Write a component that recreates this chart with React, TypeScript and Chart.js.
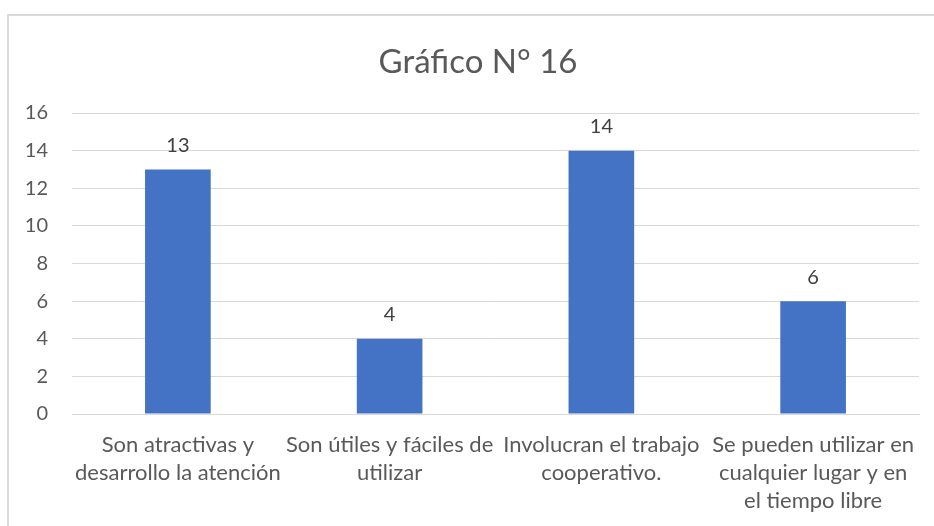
import React, { useEffect, useRef } from "react";
import { Chart, registerables } from "chart.js";

Chart.register(...registerables);

const categories: string[][] = [
  ["Son atractivas y", "desarrollo la atención"],
  ["Son útiles y fáciles de", "utilizar"],
  ["Involucran el trabajo", "cooperativo."],
  ["Se pueden utilizar en", "cualquier lugar y en", "el tiempo libre"],
];
const values: number[] = [13, 4, 14, 6];
const titleText = "Gráfico N° 16";
const yMin = 0;
const yMax = 16;
const yStep = 2;

const FONT = "Lato, 'Open Sans', sans-serif";

const dataLabels = {
  id: "dataLabels",
  afterDatasetsDraw(chart: any) {
    const ctx = chart.ctx;
    const meta = chart.getDatasetMeta(0);
    ctx.save();
    ctx.font = `20px ${FONT}`;
    ctx.fillStyle = "#404040";
    ctx.textAlign = "center";
    ctx.textBaseline = "middle";
    meta.data.forEach((el: any, i: number) => {
      ctx.fillText(String(values[i]), el.x, el.y - 24);
    });
    ctx.restore();
  },
};

const chartTitle = {
  id: "chartTitle",
  afterDraw(chart: any) {
    const ctx = chart.ctx;
    ctx.save();
    ctx.font = `33px ${FONT}`;
    ctx.fillStyle = "#595959";
    ctx.textAlign = "center";
    ctx.textBaseline = "middle";
    ctx.fillText(titleText, 478, 62);
    ctx.restore();
  },
};

export default function App() {
  const ref = useRef<HTMLCanvasElement>(null);
  useEffect(() => {
    if (!ref.current) return;
    const chart = new Chart(ref.current, {
      type: "bar",
      data: {
        labels: categories,
        datasets: [
          {
            data: values,
            backgroundColor: "#4472C4",
            barPercentage: 0.62,
            categoryPercentage: 0.5,
          },
        ],
      },
      options: {
        animation: false,
        responsive: false,
        maintainAspectRatio: false,
        layout: { padding: { left: 0, right: 15, top: 113, bottom: 0 } },
        plugins: {
          legend: { display: false },
          tooltip: { enabled: false },
          title: { display: false },
        },
        scales: {
          x: {
            grid: { display: false, drawTicks: false },
            border: { display: true, color: "#d9d9d9", width: 1 },
            ticks: {
              color: "#595959",
              font: { family: FONT, size: 22, lineHeight: 1.27 },
              padding: 17,
              maxRotation: 0,
              autoSkip: false,
            },
            afterFit: (s: any) => {
              s.height = 112;
            },
          },
          y: {
            min: yMin,
            max: yMax,
            ticks: {
              stepSize: yStep,
              color: "#595959",
              font: { family: FONT, size: 20 },
              padding: 24,
            },
            grid: { color: "#d9d9d9", drawTicks: false, lineWidth: 1 },
            border: { display: false },
            afterFit: (s: any) => {
              s.width = 72;
            },
          },
        },
      },
      plugins: [dataLabels, chartTitle],
    });
    return () => chart.destroy();
  }, []);

  return (
    <div style={{ position: "fixed", left: 0, top: 0, width: 934, height: 526, overflow: "hidden", background: "#fff" }}>
      <div
        style={{
          position: "absolute",
          left: 7,
          top: 14,
          width: 1000,
          height: 600,
          border: "2px solid #d9d9d9",
          boxSizing: "border-box",
        }}
      />
      <canvas ref={ref} width={934} height={526} style={{ position: "absolute", left: 0, top: 0, width: 934, height: 526 }} />
    </div>
  );
}
